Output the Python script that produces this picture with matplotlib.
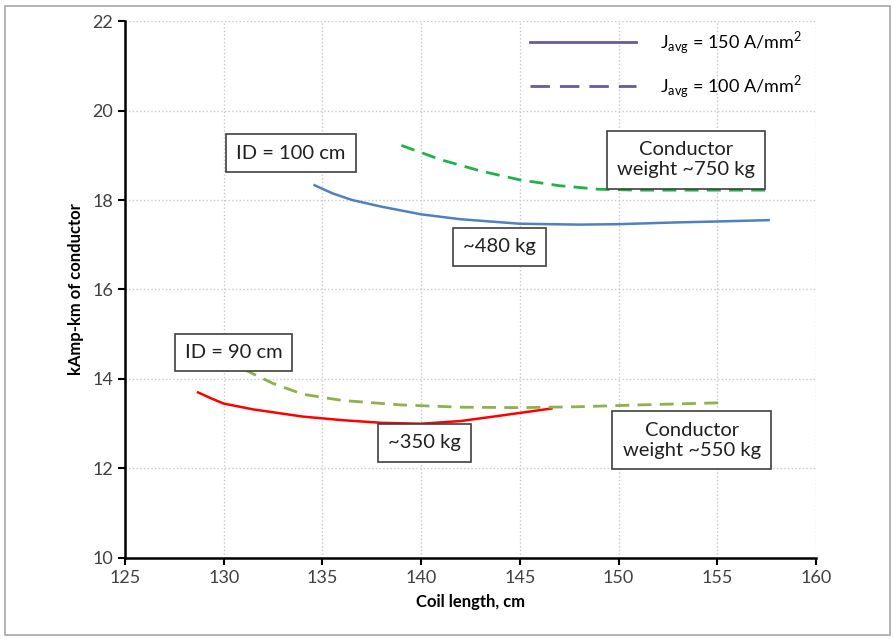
import matplotlib
matplotlib.use("Agg")
import matplotlib.pyplot as plt
from matplotlib.lines import Line2D
from matplotlib.patches import Rectangle

plt.rcParams['font.family'] = ['Lato', 'DejaVu Sans']

# ID = 100 cm, J = 150 A/mm2
len_100_150 = [134.6, 135.5, 136.5, 138, 140, 142, 145, 148, 150, 153, 155, 157.6]
amp_100_150 = [18.33, 18.15, 18.0, 17.85, 17.68, 17.57, 17.47, 17.45, 17.46, 17.50, 17.52, 17.55]
# ID = 100 cm, J = 100 A/mm2
len_100_100 = [139, 141, 143, 145, 147, 149, 151, 154, 157.7]
amp_100_100 = [19.22, 18.90, 18.65, 18.45, 18.32, 18.24, 18.22, 18.22, 18.22]
# ID = 90 cm, J = 150 A/mm2
len_90_150 = [128.7, 129.4, 130, 131.5, 134, 136, 138, 140, 142, 144, 146.6]
amp_90_150 = [13.70, 13.56, 13.45, 13.32, 13.16, 13.08, 13.02, 13.00, 13.06, 13.18, 13.34]
# ID = 90 cm, J = 100 A/mm2
len_90_100 = [131, 132.5, 134, 136, 139, 142, 145, 148, 151, 155.3]
amp_90_100 = [14.22, 13.90, 13.66, 13.52, 13.42, 13.37, 13.36, 13.38, 13.42, 13.47]

legend_labels = ['J$_{\\mathregular{avg}}$ = 150 A/mm$^{\\mathregular{2}}$',
                 'J$_{\\mathregular{avg}}$ = 100 A/mm$^{\\mathregular{2}}$']

fig = plt.figure(figsize=(8.95, 6.39), dpi=100)
fig.patches.append(Rectangle((0.006, 0.006), 0.988, 0.985, transform=fig.transFigure,
                             fill=False, edgecolor='#a6a6a6', linewidth=1.2))
ax = fig.add_axes([0.1397, 0.1268, 0.772, 0.8403])

ax.plot(len_100_150, amp_100_150, color='#4f81bd', lw=1.8)
ax.plot(len_100_100, amp_100_100, color='#1fb24a', lw=2.0, ls=(0, (5, 3)))
ax.plot(len_90_150, amp_90_150, color='#ff0000', lw=1.8)
ax.plot(len_90_100, amp_90_100, color='#8fb04a', lw=2.0, ls=(0, (5, 3)))

ax.set_xlim(125, 160)
ax.set_ylim(10, 22)
ax.set_xticks(range(125, 161, 5))
ax.set_yticks(range(10, 23, 2))
ax.grid(True, color='#c8c8c8', ls=':', lw=1)
ax.set_axisbelow(True)
for s in ['top', 'right']:
    ax.spines[s].set_visible(False)
for s in ['left', 'bottom']:
    ax.spines[s].set_linewidth(1.8)
ax.tick_params(axis='both', direction='out', length=5, width=1.5, labelsize=13,
               labelcolor='#404040')
ax.set_xlabel('Coil length, cm', fontsize=12, fontweight='bold', labelpad=6)
ax.set_ylabel('kAmp-km of conductor', fontsize=12, fontweight='bold', labelpad=6)

handles = [Line2D([], [], color='#6a5a9c', lw=2),
           Line2D([], [], color='#6a5a9c', lw=2, ls=(0, (7, 3.6)))]
ax.legend(handles, legend_labels, loc='upper left', bbox_to_anchor=(0.586, 0.985),
          frameon=False, fontsize=13, handlelength=5.9, labelspacing=0.95,
          handletextpad=1.3, borderpad=0, borderaxespad=0)

box = dict(boxstyle='square,pad=0.5', facecolor='white', edgecolor='#404040', lw=1.2)
notes = [(133.4, 19.05, 'ID = 100 cm'),
         (153.4, 18.9, 'Conductor\nweight ~750 kg'),
         (143.95, 16.95, '~480 kg'),
         (130.5, 14.6, 'ID = 90 cm'),
         (140.15, 12.57, '~350 kg'),
         (153.7, 12.63, 'Conductor\nweight ~550 kg')]
for x, y, t in notes:
    ax.text(x, y, t, ha='center', va='center', fontsize=14.5, color='#202020',
            bbox=box, linespacing=1.25)

fig.savefig('out.png', dpi=100)
